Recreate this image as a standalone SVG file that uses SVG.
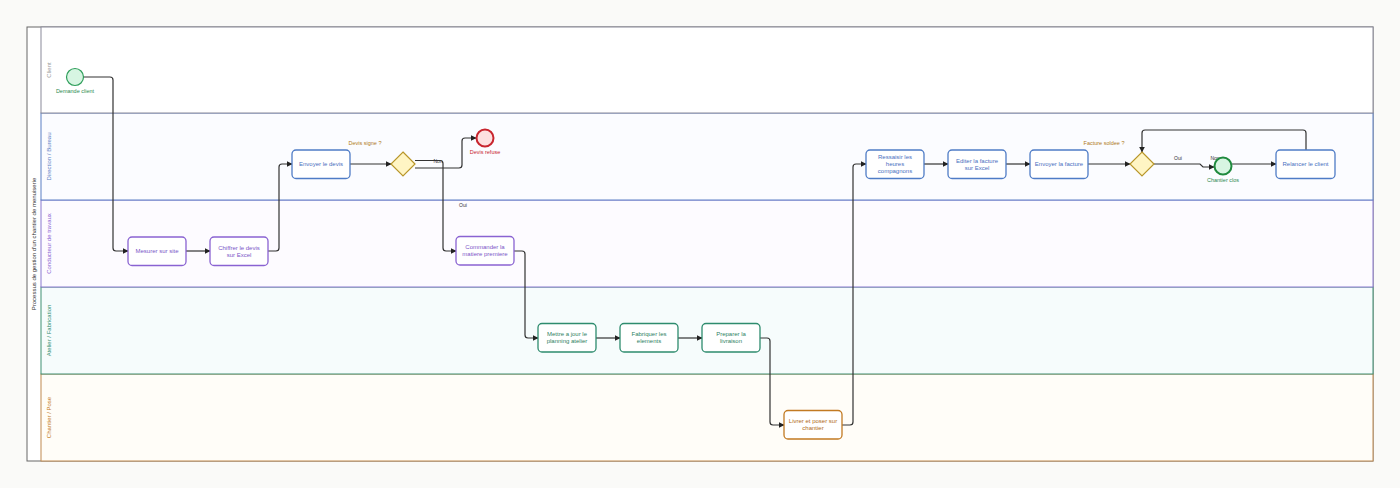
<svg xmlns="http://www.w3.org/2000/svg" width="1400" height="488" viewBox="0 0 1400 488">
<defs>
<marker id="arr" viewBox="0 0 10 10" refX="9" refY="5" markerWidth="6" markerHeight="6" markerUnits="userSpaceOnUse" orient="auto">
<path d="M0,0 L10,5 L0,10 z" fill="#222"/>
</marker>
<style>
text{font-family:"Liberation Sans",Arial,sans-serif}
.lane{stroke-width:1}
.lbl{font-size:6px;text-anchor:middle}
.task{stroke-width:1.3}
.tt{font-size:6px;text-anchor:middle}
.blue rect{fill:#fff;stroke:#4f7cc6}
.blue text{fill:#4a6fc0}
.purple rect{fill:#fff;stroke:#8a63d2}
.purple text{fill:#7b56c8}
.green rect{fill:#fff;stroke:#2e8c6e}
.green text{fill:#2e7f62}
.orange rect{fill:#fff;stroke:#c27a22}
.orange text{fill:#b06a20}
.conn path{fill:none;stroke:#333;stroke-width:1.2;marker-end:url(#arr)}
.cl{font-size:5px;fill:#333;text-anchor:middle}
.gw{fill:#fff5c4;stroke:#b8962a;stroke-width:1.2}
.gl{font-size:5.5px;fill:#b07a20;text-anchor:middle}
</style>
</defs>
<rect x="0" y="0" width="1400" height="488" fill="#fafaf8"/>
<g id="pool">
<rect x="27" y="27" width="1346" height="434" fill="#fff" stroke="#666" stroke-width="1"/>
<text x="34" y="244" transform="rotate(-90 34 244)" font-size="6" fill="#333" text-anchor="middle" dominant-baseline="middle">Processus de gestion d'un chantier de menuiserie</text>
</g>
<g id="lanes">
<g id="lane-chantier"><rect class="lane" x="41" y="374" width="1332" height="87" fill="#fffdf8" stroke="#c08a50"/><text class="lbl" x="49" y="417.5" transform="rotate(-90 49 417.5)" fill="#c27a22" dominant-baseline="middle">Chantier / Pose</text></g>
<g id="lane-atelier"><rect class="lane" x="41" y="287" width="1332" height="87" fill="#f6fcfc" stroke="#3f8f72"/><text class="lbl" x="49" y="330.5" transform="rotate(-90 49 330.5)" fill="#2e8c6e" dominant-baseline="middle">Atelier / Fabrication</text></g>
<g id="lane-conducteur"><rect class="lane" x="41" y="200" width="1332" height="87" fill="#fdfbff" stroke="#8a78d0"/><text class="lbl" x="49" y="243.5" transform="rotate(-90 49 243.5)" fill="#8a63d2" dominant-baseline="middle">Conducteur de travaux</text></g>
<g id="lane-direction"><rect class="lane" x="41" y="113" width="1332" height="87" fill="#fbfcff" stroke="#5b7fc4"/><text class="lbl" x="49" y="156.5" transform="rotate(-90 49 156.5)" fill="#5b7fc4" dominant-baseline="middle">Direction / Bureau</text></g>
<g id="lane-client"><rect class="lane" x="41" y="27" width="1332" height="86" fill="#ffffff" stroke="#8a8a9a"/><text class="lbl" x="49" y="70" transform="rotate(-90 49 70)" fill="#999" dominant-baseline="middle">Client</text></g>
</g>
<g id="connectors" class="conn">
<path d="M83,77 H110 Q113,77 113,80 V248 Q113,251 116,251 H128"/>
<path d="M186,251 H210"/>
<path d="M268,251 H276 Q279,251 279,248 V167 Q279,164 282,164 H292"/>
<path d="M350,164 H391"/>
<path d="M415,160.5 H440 Q443,160.5 443,163.5 V248 Q443,251 446,251 H456"/>
<path d="M415,168 H459 Q462,168 462,165 V141 Q462,138 465,138 H476"/>
<path d="M514,251 H522 Q525,251 525,254 V335 Q525,338 528,338 H538"/>
<path d="M596,338 H620"/>
<path d="M678,338 H702"/>
<path d="M760,338 H767 Q770,338 770,341 V422 Q770,425 773,425 H784"/>
<path d="M842,425 H850 Q853,425 853,422 V167 Q853,164 856,164 H866"/>
<path d="M924,164 H948"/>
<path d="M1006,164 H1030"/>
<path d="M1088,164 H1130"/>
<path d="M1154,164 H1200 L1203,167 H1214"/>
<path d="M1232,164 H1276"/>
<path d="M1306,150 V133 Q1306,130 1303,130 H1145 Q1142,130 1142,133 V152"/>
</g>
<g id="conn-labels">
<text class="cl" x="438" y="163">Non</text>
<text class="cl" x="463" y="207">Oui</text>
<text class="cl" x="1178" y="160">Oui</text>
<text class="cl" x="1215" y="160">Non</text>
</g>
<g id="start-demande">
<circle cx="75" cy="77" r="8.5" fill="#d7f5e2" stroke="#2e9e5a" stroke-width="1.2"/>
<text x="75" y="93" font-size="5.5" fill="#2e8a50" text-anchor="middle">Demande client</text>
</g>
<g id="t-mesurer" class="purple"><rect class="task" x="128" y="237" width="58" height="28.5" rx="4"/><text class="tt" x="157" y="253">Mesurer sur site</text></g>
<g id="t-chiffrer" class="purple"><rect class="task" x="210" y="237" width="58" height="28.5" rx="4"/><text class="tt" x="239" y="249.5">Chiffrer le devis</text><text class="tt" x="239" y="256.5">sur Excel</text></g>
<g id="t-envoyer-devis" class="blue"><rect class="task" x="292" y="150" width="58" height="28.5" rx="4"/><text class="tt" x="321" y="166">Envoyer le devis</text></g>
<g id="gw-devis">
<polygon class="gw" points="403,152 415,164 403,176 391,164"/>
<text class="gl" x="365" y="145">Devis signe ?</text>
</g>
<g id="end-refuse">
<circle cx="485" cy="138" r="8.5" fill="#fde0e0" stroke="#c8252e" stroke-width="2"/>
<text x="485" y="154" font-size="5.5" fill="#c8252e" text-anchor="middle">Devis refuse</text>
</g>
<g id="t-commander" class="purple"><rect class="task" x="456" y="236.5" width="58" height="28.5" rx="4"/><text class="tt" x="485" y="249">Commander la</text><text class="tt" x="485" y="256">matiere premiere</text></g>
<g id="t-mettre" class="green"><rect class="task" x="538" y="323.5" width="58" height="28.5" rx="4"/><text class="tt" x="567" y="336">Mettre a jour le</text><text class="tt" x="567" y="343">planning atelier</text></g>
<g id="t-fabriquer" class="green"><rect class="task" x="620" y="323.5" width="58" height="28.5" rx="4"/><text class="tt" x="649" y="336">Fabriquer les</text><text class="tt" x="649" y="343">elements</text></g>
<g id="t-preparer" class="green"><rect class="task" x="702" y="323.5" width="58" height="28.5" rx="4"/><text class="tt" x="731" y="336">Preparer la</text><text class="tt" x="731" y="343">livraison</text></g>
<g id="t-livrer" class="orange"><rect class="task" x="784" y="410.5" width="58" height="28.5" rx="4"/><text class="tt" x="813" y="423">Livrer et poser sur</text><text class="tt" x="813" y="430">chantier</text></g>
<g id="t-ressaisir" class="blue"><rect class="task" x="866" y="150" width="58" height="28.5" rx="4"/><text class="tt" x="895" y="158.5">Ressaisir les</text><text class="tt" x="895" y="165.5">heures</text><text class="tt" x="895" y="172.5">compagnons</text></g>
<g id="t-editer" class="blue"><rect class="task" x="948" y="150" width="58" height="28.5" rx="4"/><text class="tt" x="977" y="162.5">Editer la facture</text><text class="tt" x="977" y="169.5">sur Excel</text></g>
<g id="t-envoyer-facture" class="blue"><rect class="task" x="1030" y="150" width="58" height="28.5" rx="4"/><text class="tt" x="1059" y="166">Envoyer la facture</text></g>
<g id="gw-facture">
<polygon class="gw" points="1142,152 1154,164 1142,176 1130,164"/>
<text class="gl" x="1104" y="145">Facture soldee ?</text>
</g>
<g id="end-clos">
<circle cx="1223" cy="166" r="8.5" fill="#d7f5e2" stroke="#1f8a3e" stroke-width="2"/>
<text x="1223" y="182" font-size="5.5" fill="#2e8a50" text-anchor="middle">Chantier clos</text>
</g>
<g id="t-relancer" class="blue"><rect class="task" x="1276" y="150" width="59" height="28.5" rx="4"/><text class="tt" x="1305.5" y="166">Relancer le client</text></g>
</svg>
